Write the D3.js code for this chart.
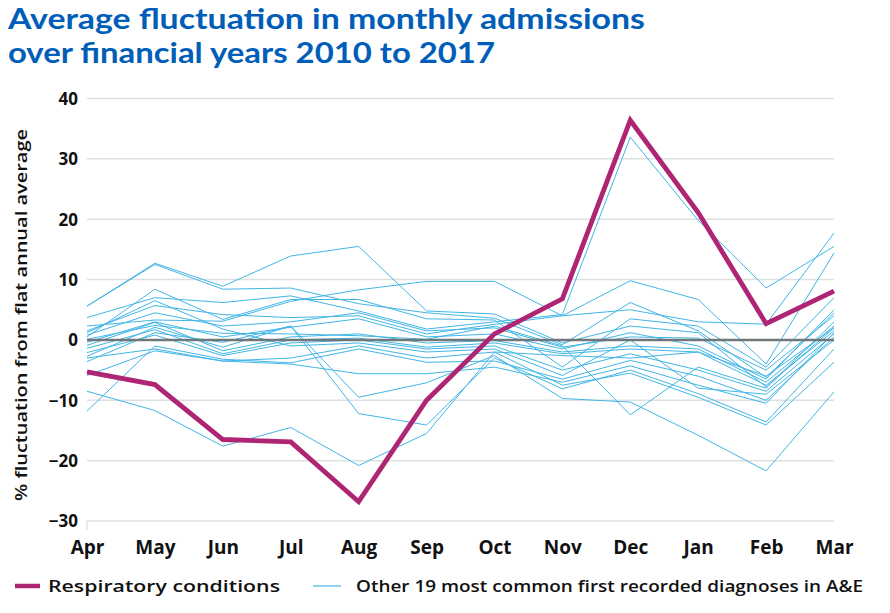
<!DOCTYPE html>
<html><head><meta charset="utf-8">
<script src="https://cdn.jsdelivr.net/npm/d3@7"></script>
<style>
html,body{margin:0;padding:0;background:#fff;}
svg{display:block;font-family:"Open Sans","Noto Sans",sans-serif;}
</style></head>
<body><svg id="chart" width="890" height="613"></svg>
<script>
const months = ["Apr","May","Jun","Jul","Aug","Sep","Oct","Nov","Dec","Jan","Feb","Mar"];
const yTicks = [-30,-20,-10,0,10,20,30,40];
const titleLines = ["Average fluctuation in monthly admissions", "over financial years 2010 to 2017"];
const respiratory = [-5.3, -7.4, -16.5, -16.9, -26.8, -10.0, 1.0, 6.8, 36.4, 21.1, 2.7, 8.1];
const otherA = [-8.5, -11.7, -17.6, -14.5, -20.8, -15.5, -2.0, -7.5, -5.5, -9.5, -14.1, -3.7];
const otherB = [-3.6, 1.2, -0.4, 2.3, -12.2, -14.1, -3.0, -8.1, -5.0, -8.9, -13.6, -1.5];
const otherC = [-2.7, 2.1, -1.2, 2.3, -9.5, -7.1, -2.6, -9.7, -10.3, -15.8, -21.7, -8.6];
const otherD = [-5.9, -1.8, -3.5, -4.0, -5.6, -5.6, -4.5, -7.0, -4.3, -7.5, -10.5, 1.2];
const otherE = [-11.8, -1.0, -3.2, -3.8, -1.5, -3.7, -3.5, -6.5, -3.4, -6.0, -10.0, 0.5];
const otherF = [3.7, 7.0, 6.2, 7.3, 4.8, 1.8, 3.0, 4.2, 33.6, 19.8, 8.6, 15.5];
const otherG = [5.6, 12.7, 8.9, 13.9, 15.5, 4.8, 4.3, -0.5, 2.3, 1.2, -7.8, 2.0];
const otherH = [5.6, 12.5, 8.4, 8.6, 6.0, 4.5, 3.6, -0.8, 6.2, 1.5, -6.2, 4.5];
const otherI = [2.3, 3.3, 3.1, 6.4, 8.3, 9.7, 9.7, 4.0, 9.8, 6.7, -4.0, 14.4];
const otherJ = [0.1, 2.4, 1.1, 1.0, 0.7, 0.1, 2.3, -1.0, -12.4, -4.5, -8.0, 3.0];
const otherK = [1.5, 5.7, 4.2, 3.7, 4.0, 1.0, 2.6, 4.0, 5.0, 3.0, 2.6, 17.7];
const otherL = [0.8, 4.5, 2.3, 3.0, 4.5, 1.5, 2.0, -1.2, 0.5, 0.3, -5.0, 4.0];
const otherM = [-0.4, 3.0, 0.5, 2.1, 3.5, 0.5, 1.0, -1.5, 1.2, -1.0, -6.5, 5.0];
const otherN = [-0.9, 2.9, -1.8, 0.5, 1.0, -0.5, -0.1, -2.0, -1.0, -1.5, -7.0, 2.3];
const otherO = [-1.4, 1.7, -2.3, 0.0, 0.3, -1.2, -0.5, -2.3, -1.5, -2.0, -7.5, 1.5];
const otherP = [-2.1, 0.8, -2.6, -0.5, 0.0, -1.5, -1.0, -5.0, -2.3, -5.0, -8.5, 1.0];
const otherQ = [1.2, 6.5, 1.8, -1.0, -0.5, -2.0, -1.5, -5.9, 0.0, -8.0, -9.0, 0.0];
const otherR = [0.5, 8.4, 3.4, 6.7, 6.7, 3.5, 3.3, -4.5, 3.5, 2.3, -4.5, 7.0];
const otherS = [-3.0, -1.5, -3.5, -3.0, -1.0, -3.0, -2.0, -2.6, -3.0, -2.0, -6.0, 2.0];
const others = [otherA, otherB, otherC, otherD, otherE, otherF, otherG, otherH, otherI, otherJ,
                otherK, otherL, otherM, otherN, otherO, otherP, otherQ, otherR, otherS];

const svg = d3.select("#chart");
const x = d3.scalePoint().domain(months).range([87, 834]);
const y = d3.scaleLinear().domain([-30, 40]).range([521, 98.5]);
const blue = "#41b6e6", pink = "#ae2573", titleBlue = "#005eb8";

// title
const titleWidths = [637, 487];
const title = svg.append("g").attr("fill", titleBlue).attr("font-weight", 700).attr("font-size", 28)
  .attr("font-family", "Lato,'Open Sans',sans-serif");
titleLines.forEach((t, i) => {
  title.append("text").attr("x", 8).attr("y", 29 + i * 34)
    .attr("textLength", titleWidths[i]).attr("lengthAdjust", "spacingAndGlyphs").text(t);
});

// gridlines
svg.append("g").selectAll("line").data(yTicks.filter(d => d !== 0)).join("line")
  .attr("x1", 87).attr("x2", 834).attr("y1", d => y(d)).attr("y2", d => y(d))
  .attr("stroke", "#dde0e1").attr("stroke-width", 1.5);
// bottom tick
svg.append("line").attr("x1", 87).attr("x2", 87).attr("y1", y(-30)).attr("y2", y(-30) + 9)
  .attr("stroke", "#dde0e1").attr("stroke-width", 1.5);

// y axis labels
const yAxis = d3.axisLeft(y).tickValues(yTicks).tickSize(0).tickPadding(0).tickFormat(d3.format("d"));
const gy = svg.append("g").attr("transform", "translate(78,0)").call(yAxis);
gy.select(".domain").remove();
gy.selectAll("text").attr("font-size", 17).attr("font-weight", 700).attr("fill", "#111")
  .attr("font-family", "'Open Sans',sans-serif").attr("dy", "0.35em");

// x axis labels
const xAxis = d3.axisBottom(x).tickSize(0).tickPadding(0);
const gx = svg.append("g").attr("transform", "translate(0,540)").call(xAxis);
gx.select(".domain").remove();
gx.selectAll("text").attr("font-size", 19).attr("font-weight", 700).attr("fill", "#111")
  .attr("font-family", "'Open Sans',sans-serif").attr("dy", "0.71em");

// y title
svg.append("text").attr("transform", "translate(27,315) rotate(-90)").attr("text-anchor", "middle")
  .attr("font-size", 17).attr("font-weight", 600).attr("fill", "#111")
  .attr("textLength", 372).attr("lengthAdjust", "spacingAndGlyphs")
  .text("% fluctuation from flat annual average");

const line = d3.line().x((d, i) => x(months[i])).y(d => y(d));

// other lines
svg.append("g").selectAll("path").data(others).join("path")
  .attr("d", line).attr("fill", "none").attr("stroke", blue).attr("stroke-width", 1)
  .attr("stroke-linejoin", "miter");

// zero line
svg.append("line").attr("x1", 87).attr("x2", 834).attr("y1", y(0)).attr("y2", y(0))
  .attr("stroke", "#6f777b").attr("stroke-width", 2.5);

// respiratory
svg.append("path").datum(respiratory).attr("d", line).attr("fill", "none")
  .attr("stroke", pink).attr("stroke-width", 4.8).attr("stroke-linejoin", "miter");

// legend
const lg = svg.append("g").attr("font-size", 17).attr("font-weight", 600).attr("fill", "#111");
lg.append("line").attr("x1", 15).attr("x2", 40).attr("y1", 586).attr("y2", 586).attr("stroke", pink).attr("stroke-width", 4.5);
lg.append("text").attr("x", 48).attr("y", 592).attr("textLength", 232).attr("lengthAdjust", "spacingAndGlyphs")
  .text("Respiratory conditions");
lg.append("line").attr("x1", 313).attr("x2", 341).attr("y1", 586).attr("y2", 586).attr("stroke", blue).attr("stroke-width", 1.2);
lg.append("text").attr("x", 356).attr("y", 592).attr("textLength", 507).attr("lengthAdjust", "spacingAndGlyphs")
  .text("Other 19 most common first recorded diagnoses in A&E");
</script></body></html>
